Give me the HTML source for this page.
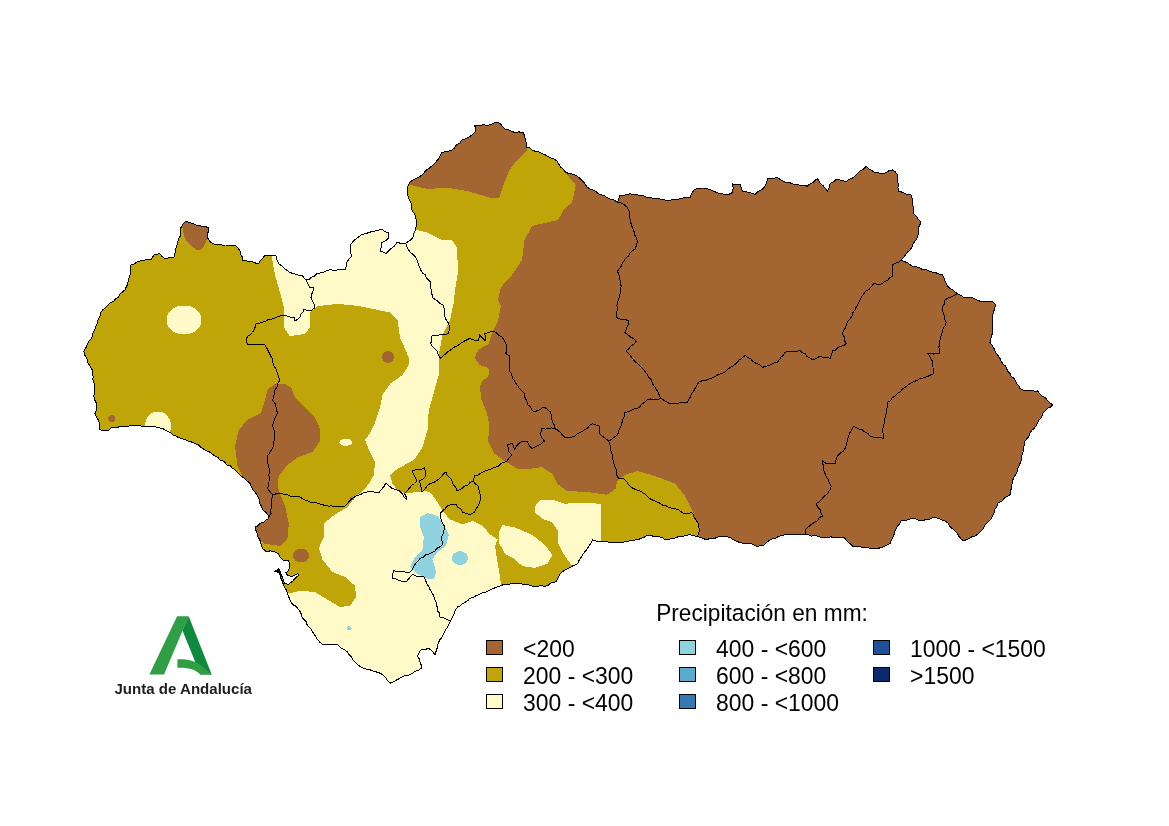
<!DOCTYPE html>
<html lang="es"><head><meta charset="utf-8"><title>Precipitación en mm</title>
<style>
html,body{margin:0;padding:0;background:#fff}
body{width:1169px;height:826px;overflow:hidden;position:relative;font-family:"Liberation Sans",Arial,sans-serif}
svg{position:absolute;left:0;top:0;display:block}
.lg{font-family:"Liberation Sans",Arial,sans-serif;font-size:22.6px;fill:#000}
.jt{font-family:"Liberation Sans",Arial,sans-serif;font-weight:bold;font-size:15px;fill:#1d1d1b}
</style></head><body>
<svg width="1169" height="826" viewBox="0 0 1169 826">
<defs><clipPath id="and"><polygon points="83.8,351.2 86,347.5 87.4,344.5 88.8,341.5 91.1,339 92.5,336 93.2,332.4 95,329.3 96.1,325.8 97.5,322.5 98.2,319.1 100,316.3 100.6,312.9 102.5,310 105.3,307.7 107.7,305 110.6,302.8 113.8,301 115.9,298.7 118.6,296.9 120.1,294 122.5,291.9 125,290 126.2,287.1 127.6,284.2 128.1,281 128.9,278 130,275 131,271.7 130,268.3 131,265 134.2,264.1 136.9,262.1 140,261 143.6,260.2 147.3,259.8 151,260 153.8,255 156.8,254.1 160,253.8 162.2,256.6 165,258.8 169.3,257.7 173.8,257.5 174.6,254.5 175.4,251.5 175.8,248.5 176.8,245.5 177.5,242.5 178.7,238.5 181,235 180.4,231.2 181,227.5 183.2,224 186,221 189.2,222.6 192.7,223.6 196,225 199.2,225.4 202.4,226.4 205.6,226.8 208.8,227.5 208.6,230.9 207.5,234.1 207.5,237.5 209,240.2 211,242.5 216,245 219.2,244.6 222.3,245.1 225.5,245 228.7,245.5 231.8,245.3 235,245 237.7,247.8 240,251 240.2,254.2 242.2,256.9 242.5,260 245.8,260.6 248.9,261.9 252.4,261.8 255.5,263 258.8,263.8 260.3,260.5 263.1,258.1 265,255 268.6,255.7 272.3,255.8 276,256 276.9,260.1 278.8,263.8 281.7,265.7 284.2,268.3 287.1,270.4 290,272.5 293.1,273.5 296.3,274.2 299.2,275.6 302.5,276 306,280 309.1,279.2 311.6,277.2 314.5,276 316.9,273.8 320,273 323.4,272.1 326.7,270.9 330,269.5 333,270.3 336,270.2 339,269.5 342,269.7 345,270 346.2,266.9 346.4,263.5 348,260.5 350,258.1 352,255.8 350.6,252.9 350,249.8 350.5,245 352.5,242.2 354.8,239.8 357.6,237.8 362.4,234.2 366,233.8 369.4,232.1 373,231.8 375.9,230.7 379,230.1 382,229.4 385.1,231.7 388.7,233 388.7,237.8 385.7,240.8 381,243.2 381.2,247.2 380.3,251 383.3,252.1 386.3,253.4 388.7,251 391,248.6 394.4,246 397,242.6 401.2,243.3 405.5,243.2 409.4,240.9 412.7,237.8 413.9,233.5 415.7,229.4 416.2,225.8 416.9,222.2 415.8,218.7 415,215 412,210 411.7,206.5 411,203.2 409.5,200 408.2,197.1 407.4,194.1 407,191 407.9,186.6 409.5,182.5 412.4,180.3 415.7,178.7 418.9,177 422,175 424.3,172.5 426.5,170 429.4,168.2 431.9,165.9 434.5,163.8 436.5,161 438.8,158.5 440.3,155.5 442,152.5 445.3,151.7 448.7,151 452,150 454.7,147.7 456.6,144.6 459.9,142.9 462,140 465.5,138.7 468.9,137.1 472,135 475.8,131 475.5,127.9 474.5,125 477.6,125 480.8,125.1 483.9,124.8 487,125.5 490.7,124.7 494.2,122.9 498,122.5 500.6,124.1 502.6,126.4 504.5,128.8 508,129.6 511.2,131 514.5,132.5 518.8,131.9 523,132.5 524.5,135.3 525.1,138.4 525.9,141.4 526.4,144.5 527,147.5 530.3,148.1 532.8,150.5 535.9,151.4 539.2,152 542,153.8 545.2,154.9 548.1,156.5 551.1,157.9 554.2,159.1 557,161 558.8,164.2 560.8,167.2 563.6,169.6 565.8,172.5 569.5,173.6 573.4,174.3 577,176 579.9,178.2 582.2,180.9 584.7,183.4 586.7,186.5 589.5,188.8 592.6,189.8 595.6,191.1 598,193.7 601.1,194.6 604.3,195.6 607,197.5 610.5,199.2 614.3,200.2 617.5,202.5 618.8,198.8 620,195 623.4,195.2 626.7,194.7 630,193.8 633.1,194.6 636.4,194.6 639.6,195.3 642.8,195.6 645.8,197 649.1,197.2 652.2,198.1 655.5,198.1 658.7,198.5 661.7,199.9 665,200 668.2,200.4 671.3,199.9 674.4,199.5 677.5,199.2 680.7,198.8 683.7,197.7 686.9,197.8 690,197.5 691.7,193.7 693.8,190 698,188.4 702.5,188 705.8,188.2 708.8,189.5 712,190.3 714.9,191.8 718,193 721.3,193.2 724.2,194.7 727.5,195 732.5,192.5 733.2,188.1 732.5,183.8 736.2,184.8 740,184.5 741.4,187.8 742.5,191.2 745.7,191.7 748.8,192.5 752,193.3 755,194.5 757.2,192.1 760.1,190.5 762.9,188.7 765,186.2 766.7,182.7 767.5,178.8 770.8,178.3 774.2,178.1 777.5,177.5 781,180.1 785,182 788.3,182 791.4,183.4 794.5,184.4 797.8,184.8 801,185.4 804.3,185.6 807.5,186.2 809.7,184 812.7,182.8 814.9,180.4 817.5,178.8 819.2,181.5 821,184.2 823.6,186.2 825.6,188.7 827.5,191.2 829.3,187.7 830,183.8 833.3,181.9 836.2,179.5 839.7,179.9 843,180.7 846.2,182 848.8,179.5 852.2,178.3 854.9,176.2 857.5,173.8 860.1,170.9 863.6,169.1 866.2,166.2 868.8,168.9 872,170.6 875,172.5 878.8,172.9 882.5,173.8 885.9,172.6 889,170.8 892.5,170 895.5,172 897.5,175 897.1,178.3 897.8,181.5 898.2,184.8 897.9,188 898.8,191.2 901.9,192.1 904.9,193.6 908,194.5 911.2,195 912.1,198.1 912.4,201.2 912.8,204.3 913.3,207.5 913.2,210.6 913.8,213.8 916.1,216 918,218.7 920,221.2 920,224.6 918.4,227.7 918.7,231 918.1,234.3 917.5,237.5 915.5,240.6 913.3,243.5 912,246.9 910,250 907.4,252.1 905.6,255 903.4,257.5 901.2,260 904,261.6 907.2,262.5 909.7,264.6 912.5,266.2 915.8,266.7 919.1,267.4 922,269.3 925.5,269.4 928.6,270.7 931.7,271.9 935,272.5 938.7,273.8 942.5,275 944,277.7 945,280.6 946.2,283.5 947.5,286.2 949.8,288.4 952.8,289.6 954.9,291.9 957.5,293.8 960.8,295.3 963.8,297.5 968.1,297.2 972.5,297.5 976.1,299.7 980,301.2 983.1,301.3 986.2,301.3 989.4,301.6 992.5,301.2 996.2,305 994.5,308.1 993.8,311.7 992.5,315 992.3,318.5 992.5,322 992.5,325.5 992.2,329 992.5,332.5 991.7,335.8 990.8,339.2 990,342.5 992.5,346 994.4,349.1 995.7,352.6 997.9,355.5 1000,358.5 1001.2,361.3 1002.8,363.8 1005.3,365.8 1006.6,368.5 1007.8,371.3 1010,373.5 1011.3,376.3 1013.8,378.2 1015.4,380.7 1016.7,383.5 1018.8,385.7 1020,388.5 1025,391 1028.1,390.6 1031.2,390.4 1034.4,391.2 1037.5,391 1039.7,393.6 1042.1,396 1045.3,397.5 1047.3,400.4 1049.8,402.6 1052.5,404.8 1050.3,407.2 1047.2,408.5 1045,411 1042.6,413.8 1041.6,417.5 1038.8,420 1037.5,423.5 1035.8,426.1 1033.9,428.5 1031.6,430.6 1030,433.2 1029,436.3 1026.9,438.6 1025,441 1024.3,444.2 1023.8,447.5 1023.3,450.7 1022.4,453.9 1021.1,457 1021.4,460.4 1020,463.5 1018.7,466.4 1017.6,469.4 1016.9,472.5 1015.2,475.3 1013.6,478 1012.5,481 1011.9,484.4 1011.9,488 1010,491.2 1010,494.8 1007.3,496.2 1004.6,497.7 1002.8,500.5 1000.2,502 997.5,503.5 996.8,506.9 994.6,509.6 994,513 992.5,516 990.9,519.1 988.6,521.6 986,523.9 984.1,526.7 982.5,529.8 980.2,532.1 977.8,534.3 975,536 971.9,536.7 969.3,538.4 966.4,539.5 963.8,541 961.1,538.9 958.9,536.4 957.4,533.3 955,531 952.4,528.6 949.6,526.4 947.9,523.1 945,521 941.3,519.6 937.6,518.1 933.8,517.2 930.2,519.1 926.1,519.3 922.5,521 918.6,520.3 915,518.5 911.5,518.6 908.1,519.8 904.7,520.6 901.2,521 899.1,524.3 896.6,527.4 895,531 894.1,534.2 893,537.4 891.2,540.4 890,543.5 887,545.1 884,546.5 880.8,547.7 877.5,548.5 874.3,548.8 871.2,548.3 868.1,547.8 865,547.2 861.8,547.2 858.8,546.3 855.6,546.6 852.5,546 850.3,543.8 847.8,541.9 845.8,539.6 843.8,537.2 840.6,537.9 837.5,537.6 834.4,537.9 831.2,536.9 828.1,537.2 825,537.2 821.6,537.3 818.3,536.5 815.1,535.4 811.6,536.1 808.4,534.7 805,534.8 801.7,534.8 798.3,534.8 795,534.3 791.7,534.9 788.3,534.7 785,534.8 781.9,535.6 778.8,536.2 776.1,538.1 772.8,538.5 770,540 766.8,542.3 764,545 760.7,545.6 757.5,546.5 753.7,544.9 750,543 746.7,543 743.3,543.3 740,542.5 736.4,541.3 733.1,539.7 730,537.5 726.7,536.7 723.3,537 720,536.2 716.7,537.6 713.3,538.7 709.6,538.6 706.2,540 703.3,538.3 700,537.5 696.7,536.3 693.2,535.8 690,534.5 686.9,535.5 683.8,536 680.6,536.4 677.5,537 674.3,538.3 670.9,538.7 667.5,539.5 664.5,539.1 661.8,537.4 658.9,536.6 655.8,536.4 652.8,536.1 650,535 646.8,535.4 644.1,537.3 641.1,538.2 638.2,539.7 635,540 632,540.7 629,541 626,541.5 623.1,542.4 620,542.5 617,542.2 613.9,542.7 611,542.1 608,542.1 605,541.2 601.9,541.1 598.7,541.3 595.6,541 592.5,540 590.9,543.3 588.8,546.2 587,549.4 584.5,552 582.5,555 580.8,557.9 578.9,560.7 577.5,563.8 573.7,565.4 570,567.5 566.5,569.3 563.1,571.2 560,573.8 558.3,577.6 556.2,581.2 553.5,582.7 550.3,583.1 548,585.4 545,586.2 541.9,585.9 538.8,586 535.6,586.9 532.5,586.2 529.1,585.1 525.6,584.4 522,584.1 518.6,583.3 515,583 511.8,583.1 508.8,584.5 505.6,584.5 502.5,585 499.6,586.2 496.5,587.1 493.6,588.4 490.7,589.6 487.9,591.1 485,592.5 481.8,593.1 478.9,594.6 475.9,595.7 473.1,597.5 470,598.2 467.9,600.5 465.3,602.2 462.6,603.7 460.3,605.7 457.5,607 455.5,609.9 454.3,613.2 452.7,616.3 451.2,619.5 449.2,623.2 447.5,627 445.4,630 443.8,633.3 442.5,636.7 440,639.5 438.6,642.4 437.7,645.4 437,648.5 436,651.5 435,654.5 432,651.2 428.8,648.2 425.1,649.5 421.2,649.5 419.1,652.5 417.5,655.8 419.1,658.7 420,662 421.2,665 421.2,668.2 418.5,670.2 415.3,671.3 412.5,673.2 409.5,674.9 406.1,675.4 402.9,676.4 400,678.2 396.7,679.9 393.4,681.7 390,683.2 387.5,680.4 385.2,677.2 382.5,674.5 379.3,672.9 375.9,671.8 372.5,670.8 368.8,669.3 364.8,668.8 361.2,667 357.8,664.9 355,662 352.8,659.7 351.5,656.8 349.2,654.7 347.5,652 345.1,650 342.1,648.8 339.6,646.9 337.5,644.5 334.5,644.8 331.5,644.3 328.5,644.2 325.5,644.3 322.5,644.5 319.8,642.2 317.5,639.5 315.4,636.2 313.3,632.9 311.2,629.5 309.3,627 307.1,624.8 306.1,621.7 303.8,619.5 301.6,616.3 300.8,612.5 298.4,609.4 296.3,606.4 292.8,604.7 290.7,601.7 288.7,596.8 287.4,593.4 286.3,590 283.4,585.2 282.6,581.7 281,578.4 280.2,574.7 278.1,571.6 274.7,571.2 278.6,569.7 280,572.6 281.5,575.5 282.9,578.4 284.4,583.8 288.7,584.2 292.6,581.3 295.5,577.9 298.9,575 297.5,573.6 294.7,575.3 291.6,576.5 287.3,575 285.8,572.6 288.7,570.7 289.7,564.9 288.7,561 282.9,560 280.2,557.1 278.1,553.7 274.4,551.7 270.3,550.8 266.5,551.8 262.6,548.4 261.2,545.6 260.8,542.6 259.7,539.7 257.9,536.7 257.1,533.2 255.8,530 255,527 258.1,525.8 260.2,523.2 263.5,522.3 266,520.2 268.8,518.5 268.8,516 266,512.5 262.5,509.8 261.5,506.2 259.6,503 259.3,499.2 257.5,496 255.6,492.9 253.2,490.1 251.3,487 250,483.5 247.5,481.2 245,479 242.3,476.8 239.7,474.7 237.4,472.2 235,469.8 232.4,468.2 230.3,465.9 227.1,465.2 225.2,462.6 222.8,460.8 219.7,459.9 217.8,457.2 215,456 212.3,454 209.6,452 206.3,450.9 203.5,449 200.6,447.2 198.2,444.7 195,443.5 191.9,442.1 188.6,441.2 185.5,439.8 182.2,438.8 178.9,437.8 176,436 173,434.9 170.7,432.5 167.6,431.6 165,429.8 161.9,428.1 158.2,427.9 155,426.5 151.8,426.8 148.6,426.3 145.3,426.7 142.1,426.4 138.9,425.5 135.7,425.5 132.5,426 129.4,425.9 126.3,426.4 123.2,426.3 120.2,426.5 117.1,427.4 114,427.4 111,428 108.8,430.5 104.3,430.8 100,429.8 99.7,425.3 98.8,421 96.8,417.3 95,413.5 96.3,409.8 97,406 96.1,402.6 94.5,399.4 93.8,396 95,392.5 94,389.2 94.8,385.8 93.8,382.5 92.9,379.4 93.1,376.3 92.6,373.1 92.5,370 90.6,367.7 89.4,364.8 87.5,362.5 86.9,358.5 84.7,355.1"/></clipPath></defs>

<g clip-path="url(#and)" shape-rendering="crispEdges">
<rect x="60" y="100" width="1020" height="620" fill="#BFA508"/>
<polygon points="271,250 272.5,261 275,275 280,292.5 283.8,307.5 283.8,327.5 290,336.2 305,333.8 310,327.5 310,312.5 317.5,306.2 337.5,303.8 360,306.2 390,312.5 397.5,320 400,337.5 408.8,357.5 408.8,365 402.5,375 390,383.8 382.5,395 380,407.5 375,422.5 368.8,435 365,440 370,452.5 375,462.5 373.8,475 368.8,483.8 362,492 355,497 347.5,507 335,514.5 323.8,523.2 323.8,537 318.8,548.2 322.5,559.5 332.5,572 345,577 355,585.8 356.2,597 350,605.8 340,607 327.5,599.5 315,592 300,590.8 290,593.2 275,595 275,700 480,700 503,600 501.2,585.8 500,577 497.5,562 495,545.8 497.5,539.5 490,534.5 482.5,525.8 472.5,520.8 462.5,524.5 450,519.5 442.5,510.8 437.5,502 430,492 424.5,491 405.8,493.5 397.5,490 392.5,483.8 390,475 397.5,468.8 413.8,460 422.5,447.5 427.5,430 428.8,410 433.8,392.5 439.5,372.5 438.8,355 442.5,335 450,320 453.8,302.5 455,290 458,272.5 457,247.5 452,240 442,240 427,232.5 417,230 408,228 408,220 345,220 345,262 320,268 306,274 290,266 276,250" fill="#FFFAC8"/>
<polygon points="535,506.2 540,500 552.5,499.5 565,503.8 577.5,502.5 601.2,503.8 601.2,545 590,560 575,570 562.5,552.5 557.5,542.5 557.5,530 552.5,522.5 542.5,518.8 535,512.5" fill="#FFFAC8"/>
<polygon points="502.5,525 515,527.5 532.5,535 545,545 552.5,555 547.5,563.8 535,568 522.5,566.2 512.5,557.5 505,553.8 498.8,542.5 498.8,532.5" fill="#FFFAC8"/>
<polygon points="562,100 562,168.8 575.8,185 572,202.5 564.5,208.8 558,220 532,226 524.5,240 522,260 512,275 500.8,287.5 498,300 500.8,306 498,321 493.5,330 490.1,338.6 488.4,344.5 483.3,346.7 479,349.7 475.6,354 475.4,359.1 479.9,365.1 487.6,367.6 489.3,370.2 488.4,376.2 482.4,381.3 479.9,386.5 480.7,393.3 481.5,400 487,413.5 489.5,426 488,441 494.5,453.5 504.5,461 517,468.5 532,468.5 542,467 552,473.5 557,483.5 567,491 587,492 607,494.8 615.8,488.5 617,481 625,474.8 637.5,471 655,476 675,483.5 685,496 692.5,511 700,528.5 698.8,536.2 698,570 1100,570 1100,100" fill="#A36632"/>
<polygon points="400,110 400,184 410.8,185 427,188.8 449.5,188 467,191 489.5,197.5 499.5,197.5 504.5,182.5 509.5,170 517,160 527,150 527,147.5 535,110" fill="#A36632"/>
<polygon points="178,215 182.5,227.5 184,236 187,242 191.5,246.5 196,249.5 200,250 203.5,247.5 206,242 207.5,237.5 208.8,227.5 214,215" fill="#A36632"/>
<polygon points="267.5,390 275,383.5 283.8,383.5 291.2,387.5 295,397.5 305,407.5 315,417.5 319.5,427.5 320,441 312.5,452 297.5,457.5 287.5,464.8 278.8,476 277.5,486 281,496 285,506 288.8,523.5 287.5,538.5 280,546 263.8,543.5 257.5,536 246,532 246,495 242.5,476 237.5,466 235,446 238.8,429.8 247.5,419.8 261,413 265,400" fill="#A36632"/>
<ellipse cx="184" cy="320" rx="17.5" ry="14.5" fill="#FFFAC8"/>
<ellipse cx="158" cy="426" rx="13" ry="14.5" fill="#FFFAC8"/>
<ellipse cx="345.75" cy="442.25" rx="6.5" ry="3.5" fill="#FFFAC8"/>
<ellipse cx="111.75" cy="418.5" rx="3.5" ry="3.5" fill="#A36632"/>
<ellipse cx="388" cy="357" rx="6" ry="6" fill="#A36632"/>
<ellipse cx="301" cy="555.5" rx="8" ry="7" fill="#A36632"/>
<ellipse cx="352" cy="498.5" rx="2" ry="2" fill="#A36632"/>
<polygon points="420,517 427.5,513.2 437.5,515.8 443.8,524.5 448.8,534.5 446.2,545.8 437.5,552 432.5,559.5 436.2,572 433.8,579.5 425,578.2 415,572 410,567 415,557 422.5,549.5 423.8,537 420,527" fill="#8FD3E0"/>
<ellipse cx="460" cy="558.25" rx="8" ry="7" fill="#8FD3E0"/>
<ellipse cx="349.25" cy="628.25" rx="2.5" ry="2" fill="#8FD3E0"/>
</g>
<g fill="none" stroke="#000" stroke-width="1" stroke-linejoin="round" shape-rendering="crispEdges">
<polyline points="306,280 307.8,283.9 310,287.5 313.8,287.5 313.1,290.9 311.8,294.1 311,297.5 312.5,300.8 314.1,304 315,307.5 311,311 307.4,310.5 304,309 303,312 300.8,314.4 300,317.5 297.5,319.3 295,321 294,317 290.5,317.1 287,315.9 283.5,315.6 280,316 276.9,317.1 273.9,318.5 270.8,319.4 267.5,320 264.8,321.5 261.8,322.2 259.1,323.5 256,324 255.2,327 254,329.8 252.5,332.5 250.3,334.6 247.8,336.4 246,339 247.5,344.5 251,344.9 254.5,344.6 258,344.7 261.5,344.9 265,345 267.2,348.7 269,352.5 270.4,355.4 272,358.3 272.9,361.4 273.2,364.7 275,367.5 276.7,370.4 277.5,373.8 278.6,376.9 280,380 277.9,383.1 277,386.8 275,390 274.5,393.4 273.7,396.8 272.5,400 275,403.5 276,406.8 276.7,410.1 277.5,413.5 275.7,416.4 274.5,419.6 273.3,422.7 272.5,426 273.8,429 274.4,432.1 274.1,435.4 275,438.5 273.6,441.7 273.4,445.2 272.5,448.5 270.6,450.9 269.4,453.9 267,456 267.7,459 267.6,462.1 268.4,465.1 268.9,468.1 270,471 268.8,474.4 269.3,478 269,481.6 268.5,485.1 267.5,488.5 270,491.6 272.5,494.8 272,497.9 271.4,501 271.4,504.1 271.3,507.2 270.9,510.3 271,513.5 268.8,517"/>
<polyline points="272.5,494.8 276.2,493.8 280,493 283.3,494.1 286.9,494.4 290,496 293.3,496.7 296.7,496.3 300,497 303.1,499.2 306.6,500.5 310,502 313.2,502.4 316.4,502.9 319.4,503.7 322.5,504.8 325.6,505.5 328.7,506.1 332,505.9 335,507 338.3,506.1 341.7,506.4 345,506 347.4,503.6 349.6,500.9 352,498.5 354.5,497 357.5,495.4 360.8,494.6 363.6,492.6 367,492 370.1,491.7 373.2,491.9 376.4,492.6 379.5,492 381.7,489.1 384.1,486.3 385.8,483 388.9,485.7 392,488.5 395.9,489.4 399.5,491 402.3,493.7 404,497.3 407,499.8 406,496.5 404.5,493.5 407,491 409.3,488.3 411.5,485.5 414.5,483.5 417,481 415.6,477.6 413.6,474.4 412,471 415,469.9 418.3,469.7 421.5,469.3 424.5,468 425.5,471.9 425.8,476 423,479 419.5,481 420.6,484.6 421.3,488.3 422,492 424.7,489.2 427,486 429.9,483.8 433.5,482.6 436.5,480.7 439.5,478.5 441.6,476.3 443.4,473.9 445.8,472 447.3,475.4 450.1,477.8 452,481 453.3,484.5 455.7,487.5 457,491 462,488.5 464.5,486.3 467.7,485.1 470.1,482.6 473,481"/>
<polyline points="473,481 474.5,476 477.7,475.3 480.3,473.5 483.1,471.8 486,470.6 489,469.6 492,468.5 495.1,467.2 498.3,466.1 500.8,463.6 503.9,462.4 507,461 509.2,457.6 512,454.8 508,451 508.2,447.8 507,444.8 512,443.5 513.7,446.4 514.5,449.8 516.1,446.8 518.2,444.2 520.8,442 523.9,441.4 527,441 528.2,443.8 529.9,446.3 532,448.5 535.3,446.9 538.6,445.3 541.7,443.4 544.5,441 542.4,438.6 540.8,436 540.9,432.2 542,428.5 545.1,429.1 548.2,428.8 551.4,427.8 554.5,428.5"/>
<polyline points="473,481 475.3,483.7 478,486 478.9,489.1 479.5,492.2 480.3,495.3 480.8,498.5 479.6,502.1 478.3,505.5 476.3,508.8 474.5,512 470,514.5 466.2,513.4 462.5,512 460.9,509.1 457.9,507.3 456.2,504.5 451.8,504.5 447.5,505.8 445.3,508.5 442.6,510.9 440,513.2 440.2,516.5 441.2,519.5 442.7,523.5 445,527 443.8,530.4 443.1,533.9 441.2,537 441.9,540.7 442.5,544.5 440.1,546.7 437.1,548.2 435,550.8 432.2,552.6 429.1,553.9 425.8,554.8 423.3,557.3 420,558.2 418.1,561.1 415.6,563.5 413.7,566.3 412.5,569.6 410,572 406.2,572.4 402.5,571.5 398.1,571.7 393.8,570.8 392.5,574.4 392.5,578.2 396,578.9 399.3,580.5 402.7,581.6 406.2,582 408.2,579.4 410.2,576.8 412.5,574.5 416.1,576 420,576.3 423.8,577 425.6,580 426.6,583.4 428.7,586.3 430,589.5 431.8,592.5 433.7,595.4 434.4,599 436.2,602 436.4,605.1 437.6,608 437.9,611.2 439.9,613.8 440,617 443.5,617.9 446.7,619.5 450,620.8"/>
<polyline points="405.8,242.5 406.3,245.8 408,248.8 410.1,252.1 413.3,254.5 415.8,257.5 417.3,260.5 418.3,263.7 419.5,266.9 420.8,270 422.3,272.9 425.1,274.7 426.4,277.8 428.5,280.2 430.8,282.5 430.5,285.5 430.9,288.5 431.4,291.5 432,294.5 432,297.5 434.9,299.2 437.6,301.1 440,303.5 443,305 444.1,308.6 444.4,312.3 444.5,316 445.9,319.5 448.1,322.5 449.5,326 449.3,329.9 448,333.5 444.5,334.8 440.8,334.8 436.4,335.3 432,336 431.6,339.8 430.8,343.5 432.3,346.4 434.5,348.8 437,351 438.3,355.1 440.8,358.5 443.3,355.9 445.9,353.5 448.6,351.2 451.7,349.3 454.5,347 457.6,345.6 460.5,343.5 463.3,341.6 466.4,340.1 469.5,338.5 473.7,339.9 478,341 479,337.9 479.5,334.8 482.4,338.1 485.8,341 485.6,337.2 484.5,333.5 488.8,332.5 493,331 496.3,332.6 498.7,335.4 502,337 503.9,339.9 505.3,343 507,346 506.6,349.8 505.8,353.5 509.5,356 509.2,359 509.9,362 509.9,365 509.9,368 509.5,371 511.6,374.1 512.4,377.9 514.5,381 516.1,383.6 518,385.9 519.5,388.5 522.1,390.9 524.5,393.5 525,397.5 526.8,401 528,404.8 530.4,406.9 532,409.9 534.5,412 537.4,410.5 540.5,409.3 543,407 545.9,408.2 548.2,410.3 550.8,412 551.1,415.4 551.8,418.7 552.4,422 554.4,425.1 554.5,428.5"/>
<polyline points="618.5,202.5 621,203 624.4,205 627.5,207.5 628.9,210.7 629.6,214.1 629.4,217.7 630.7,220.9 631.1,224.3 632.5,227.5 633.9,230.9 634.5,234.6 636.3,237.8 637.5,241.2 636.6,245.1 635,248.8 632.5,250.7 630.2,252.7 628.8,255.7 626.2,257.5 624.4,260.2 622.6,262.9 621.3,266 619.4,268.6 617.5,271.2 618.7,274.1 619.4,277.1 620.1,280.2 620.4,283.3 621.2,286.2 620.3,289.5 620.2,292.8 619.7,296.2 618.5,299.3 617.5,302.5 617,305.5 617.4,308.5 617,311.5 616.9,314.5 616.2,317.5 619.3,318.8 622.5,319.4 625.8,319.7 628.8,321.2 628,325.2 626.4,328.8 625,332.5 627.8,334.7 630.5,337 633.8,338.6 636.2,341.2 634.1,344 631.1,345.9 628.8,348.7 626.2,351 628.6,353.3 630.6,355.8 632.5,358.5 634.6,361.4 637.7,363.3 639.9,366.1 642.5,368.5 644.8,371.2 647,374.1 648.7,377.3 651.2,379.8 652.5,383.8 655,387.2 656.7,390 658.5,392.7 659.4,395.8 661.2,398.5"/>
<polyline points="661.2,398.5 657.9,399.2 654.4,399.8 650.9,398.9 647.5,399.8 645.1,402 642.2,403.8 640.1,406.4 637.5,408.5 634.2,408.9 631.3,410.4 628.3,411.8 625,412.2 624.7,415.9 623.1,419.1 622,422.5 621.2,426 619.1,429.1 618.4,432.9 616.2,436 613.7,437.5 611.4,439.5 608.8,441 605.8,438.6 602.6,436.5 600,433.8 599.7,430 600,426.2 596.3,425 592.5,423.8 589.6,425.1 587.8,427.9 585,429.4 582.5,431.2 579.8,432.6 577.1,434 575,436.2 571.7,437.1 568.4,437.6 565,437.5 562.5,435 560.2,432.4 557.6,430.1 554.5,428.5"/>
<polyline points="608.8,441 609.5,444 610.9,446.8 610.4,450.1 611.9,453 612.5,456 612.7,459.4 613.8,462.6 614.3,466 616,469.1 616.2,472.5 617.1,475.8 618.8,478.8 623.8,478.8 626.1,481 628,483.7 630,486.2 632.9,488.2 636,489.8 639.6,490.5 642.5,492.5 645.3,494.3 647.6,496.6 650,498.8 653.1,500.3 656.3,501.7 659.6,503 662.5,505 665.7,505.6 668.7,507.2 671.7,508.3 675,508.8 678.6,509.8 681.6,512.2 685,513.8 688.2,513.5 691.2,512.5 693.5,514.6 694.2,517.8 696.2,520 698,523.1 698.6,526.7 700,530 698.7,533.1 697.5,536.2"/>
<polyline points="661.2,398.5 664.1,400.5 667.2,401.9 670,404 673.5,403.5 677,403.4 680.5,402.8 684,402.8 687.5,402.2 688.9,399.5 690.4,396.7 691.4,393.7 693.6,391.3 695,388.5 696.9,385.4 698.8,382.2 702.4,380.6 706.4,380.1 710,378.5 713.2,377.6 716,375.9 718.8,374.3 722,373.5 725,372.2 727.5,369.6 730.3,367.5 733.4,365.6 736.2,363.5 738.8,360.4 742,358.1 745,355.5 747.5,357.3 750.4,358.6 752.5,361 755.7,363.2 759.5,364.7 762.5,367.2 765.6,366.6 768.6,365.6 771.5,364.3 774.3,362.7 777.5,362.2 779.4,359.8 781.1,357.1 783.6,355.1 785,352.2 787.9,351.4 791.1,352 794.1,351.9 797,351.2 800,350.5 802.2,352.7 805.3,353.9 807.1,356.6 810,357.9 812.5,359.8 816.5,358.4 820,356 823.2,357.4 826.8,357.2 830,358.5 831.6,354.9 832.5,351 835.5,350.1 837.7,347.6 840.7,346.5 843.7,345.5 846.2,343.8 844.6,340.6 844.3,336.9 842.5,333.8 843.5,330.7 845.4,328.1 846.2,325 847.6,321.7 849.8,319 852,316.3 852.9,312.8 855,310 856.2,307.1 857.9,304.6 859.2,301.8 860.3,298.9 861.9,296.2 863.8,293.8 865.9,290.9 869.2,289.2 871.4,286.4 873.8,283.8 878.1,284.3 882.5,283.8 884.7,281.5 887.7,280.3 889.7,277.7 892.5,276.2 892.5,272.5 892.7,268.8 892.5,265 895.3,263.2 898.6,262.1 901.2,260"/>
<polyline points="957.5,293.8 954.3,295.2 951.2,296.8 947.9,298 945,300 944.7,303.5 942.7,306.5 942.5,310 943.3,313.2 944.5,316.2 944.9,319.5 946.2,322.5 945.3,325.7 943.1,328.5 942.4,331.8 941.2,335 940.8,338.2 939.6,341.2 939.5,344.4 938.8,347.5 939.8,350.4 940,353.5 936.9,353.2 933.8,354.1 930.6,353.1 927.5,353.5 929.5,355.8 930.7,358.6 932.5,361 932.1,364.2 933,367.3 933.2,370.4 933.8,373.5 930.4,375 927.1,376.7 923.7,377.9 920,378.5 916.9,380.6 913.3,381.7 910,383.5 907.6,385.6 905,387.5 902.2,389.1 900.3,391.9 897.5,393.5 895.3,396 892.4,397.7 890.4,400.6 887.5,402.2 887.7,405.6 886.7,408.8 886.5,412.1 885.7,415.3 885,418.5 884.8,421.7 883.6,424.7 883,427.9 882.5,431 883.5,434.7 883.8,438.5 880.3,437.7 876.9,437.3 873.3,437.1 870,436 867.9,433.4 864.8,432.1 862.5,429.8 859.4,429 856.4,427.8 853.8,426 851.9,429.2 850,432.4 848.8,436 847.4,439 847,442.3 846.3,445.5 845,448.5 843,451.5 839.9,453.4 837.5,456 836.2,459.7 835,463.5 830.6,463.7 826.2,463.5 822.5,461 822.9,464.2 823.8,467.2 823.8,470.5 825,473.5 826.3,476.8 828.4,479.6 829.2,483.1 831.2,486 829.9,490 827.5,493.5 825.2,495.5 823.1,497.6 821,499.8 818.9,502 816.2,503.5 817.5,506.8 820,509.4 820.9,512.9 822.5,516 819.6,517.4 817.8,520.2 815.3,522 812.5,523.5 809.9,525.5 807.5,527.7 805,529.8 805,534.8"/>
<polygon points="83.8,351.2 86,347.5 87.4,344.5 88.8,341.5 91.1,339 92.5,336 93.2,332.4 95,329.3 96.1,325.8 97.5,322.5 98.2,319.1 100,316.3 100.6,312.9 102.5,310 105.3,307.7 107.7,305 110.6,302.8 113.8,301 115.9,298.7 118.6,296.9 120.1,294 122.5,291.9 125,290 126.2,287.1 127.6,284.2 128.1,281 128.9,278 130,275 131,271.7 130,268.3 131,265 134.2,264.1 136.9,262.1 140,261 143.6,260.2 147.3,259.8 151,260 153.8,255 156.8,254.1 160,253.8 162.2,256.6 165,258.8 169.3,257.7 173.8,257.5 174.6,254.5 175.4,251.5 175.8,248.5 176.8,245.5 177.5,242.5 178.7,238.5 181,235 180.4,231.2 181,227.5 183.2,224 186,221 189.2,222.6 192.7,223.6 196,225 199.2,225.4 202.4,226.4 205.6,226.8 208.8,227.5 208.6,230.9 207.5,234.1 207.5,237.5 209,240.2 211,242.5 216,245 219.2,244.6 222.3,245.1 225.5,245 228.7,245.5 231.8,245.3 235,245 237.7,247.8 240,251 240.2,254.2 242.2,256.9 242.5,260 245.8,260.6 248.9,261.9 252.4,261.8 255.5,263 258.8,263.8 260.3,260.5 263.1,258.1 265,255 268.6,255.7 272.3,255.8 276,256 276.9,260.1 278.8,263.8 281.7,265.7 284.2,268.3 287.1,270.4 290,272.5 293.1,273.5 296.3,274.2 299.2,275.6 302.5,276 306,280 309.1,279.2 311.6,277.2 314.5,276 316.9,273.8 320,273 323.4,272.1 326.7,270.9 330,269.5 333,270.3 336,270.2 339,269.5 342,269.7 345,270 346.2,266.9 346.4,263.5 348,260.5 350,258.1 352,255.8 350.6,252.9 350,249.8 350.5,245 352.5,242.2 354.8,239.8 357.6,237.8 362.4,234.2 366,233.8 369.4,232.1 373,231.8 375.9,230.7 379,230.1 382,229.4 385.1,231.7 388.7,233 388.7,237.8 385.7,240.8 381,243.2 381.2,247.2 380.3,251 383.3,252.1 386.3,253.4 388.7,251 391,248.6 394.4,246 397,242.6 401.2,243.3 405.5,243.2 409.4,240.9 412.7,237.8 413.9,233.5 415.7,229.4 416.2,225.8 416.9,222.2 415.8,218.7 415,215 412,210 411.7,206.5 411,203.2 409.5,200 408.2,197.1 407.4,194.1 407,191 407.9,186.6 409.5,182.5 412.4,180.3 415.7,178.7 418.9,177 422,175 424.3,172.5 426.5,170 429.4,168.2 431.9,165.9 434.5,163.8 436.5,161 438.8,158.5 440.3,155.5 442,152.5 445.3,151.7 448.7,151 452,150 454.7,147.7 456.6,144.6 459.9,142.9 462,140 465.5,138.7 468.9,137.1 472,135 475.8,131 475.5,127.9 474.5,125 477.6,125 480.8,125.1 483.9,124.8 487,125.5 490.7,124.7 494.2,122.9 498,122.5 500.6,124.1 502.6,126.4 504.5,128.8 508,129.6 511.2,131 514.5,132.5 518.8,131.9 523,132.5 524.5,135.3 525.1,138.4 525.9,141.4 526.4,144.5 527,147.5 530.3,148.1 532.8,150.5 535.9,151.4 539.2,152 542,153.8 545.2,154.9 548.1,156.5 551.1,157.9 554.2,159.1 557,161 558.8,164.2 560.8,167.2 563.6,169.6 565.8,172.5 569.5,173.6 573.4,174.3 577,176 579.9,178.2 582.2,180.9 584.7,183.4 586.7,186.5 589.5,188.8 592.6,189.8 595.6,191.1 598,193.7 601.1,194.6 604.3,195.6 607,197.5 610.5,199.2 614.3,200.2 617.5,202.5 618.8,198.8 620,195 623.4,195.2 626.7,194.7 630,193.8 633.1,194.6 636.4,194.6 639.6,195.3 642.8,195.6 645.8,197 649.1,197.2 652.2,198.1 655.5,198.1 658.7,198.5 661.7,199.9 665,200 668.2,200.4 671.3,199.9 674.4,199.5 677.5,199.2 680.7,198.8 683.7,197.7 686.9,197.8 690,197.5 691.7,193.7 693.8,190 698,188.4 702.5,188 705.8,188.2 708.8,189.5 712,190.3 714.9,191.8 718,193 721.3,193.2 724.2,194.7 727.5,195 732.5,192.5 733.2,188.1 732.5,183.8 736.2,184.8 740,184.5 741.4,187.8 742.5,191.2 745.7,191.7 748.8,192.5 752,193.3 755,194.5 757.2,192.1 760.1,190.5 762.9,188.7 765,186.2 766.7,182.7 767.5,178.8 770.8,178.3 774.2,178.1 777.5,177.5 781,180.1 785,182 788.3,182 791.4,183.4 794.5,184.4 797.8,184.8 801,185.4 804.3,185.6 807.5,186.2 809.7,184 812.7,182.8 814.9,180.4 817.5,178.8 819.2,181.5 821,184.2 823.6,186.2 825.6,188.7 827.5,191.2 829.3,187.7 830,183.8 833.3,181.9 836.2,179.5 839.7,179.9 843,180.7 846.2,182 848.8,179.5 852.2,178.3 854.9,176.2 857.5,173.8 860.1,170.9 863.6,169.1 866.2,166.2 868.8,168.9 872,170.6 875,172.5 878.8,172.9 882.5,173.8 885.9,172.6 889,170.8 892.5,170 895.5,172 897.5,175 897.1,178.3 897.8,181.5 898.2,184.8 897.9,188 898.8,191.2 901.9,192.1 904.9,193.6 908,194.5 911.2,195 912.1,198.1 912.4,201.2 912.8,204.3 913.3,207.5 913.2,210.6 913.8,213.8 916.1,216 918,218.7 920,221.2 920,224.6 918.4,227.7 918.7,231 918.1,234.3 917.5,237.5 915.5,240.6 913.3,243.5 912,246.9 910,250 907.4,252.1 905.6,255 903.4,257.5 901.2,260 904,261.6 907.2,262.5 909.7,264.6 912.5,266.2 915.8,266.7 919.1,267.4 922,269.3 925.5,269.4 928.6,270.7 931.7,271.9 935,272.5 938.7,273.8 942.5,275 944,277.7 945,280.6 946.2,283.5 947.5,286.2 949.8,288.4 952.8,289.6 954.9,291.9 957.5,293.8 960.8,295.3 963.8,297.5 968.1,297.2 972.5,297.5 976.1,299.7 980,301.2 983.1,301.3 986.2,301.3 989.4,301.6 992.5,301.2 996.2,305 994.5,308.1 993.8,311.7 992.5,315 992.3,318.5 992.5,322 992.5,325.5 992.2,329 992.5,332.5 991.7,335.8 990.8,339.2 990,342.5 992.5,346 994.4,349.1 995.7,352.6 997.9,355.5 1000,358.5 1001.2,361.3 1002.8,363.8 1005.3,365.8 1006.6,368.5 1007.8,371.3 1010,373.5 1011.3,376.3 1013.8,378.2 1015.4,380.7 1016.7,383.5 1018.8,385.7 1020,388.5 1025,391 1028.1,390.6 1031.2,390.4 1034.4,391.2 1037.5,391 1039.7,393.6 1042.1,396 1045.3,397.5 1047.3,400.4 1049.8,402.6 1052.5,404.8 1050.3,407.2 1047.2,408.5 1045,411 1042.6,413.8 1041.6,417.5 1038.8,420 1037.5,423.5 1035.8,426.1 1033.9,428.5 1031.6,430.6 1030,433.2 1029,436.3 1026.9,438.6 1025,441 1024.3,444.2 1023.8,447.5 1023.3,450.7 1022.4,453.9 1021.1,457 1021.4,460.4 1020,463.5 1018.7,466.4 1017.6,469.4 1016.9,472.5 1015.2,475.3 1013.6,478 1012.5,481 1011.9,484.4 1011.9,488 1010,491.2 1010,494.8 1007.3,496.2 1004.6,497.7 1002.8,500.5 1000.2,502 997.5,503.5 996.8,506.9 994.6,509.6 994,513 992.5,516 990.9,519.1 988.6,521.6 986,523.9 984.1,526.7 982.5,529.8 980.2,532.1 977.8,534.3 975,536 971.9,536.7 969.3,538.4 966.4,539.5 963.8,541 961.1,538.9 958.9,536.4 957.4,533.3 955,531 952.4,528.6 949.6,526.4 947.9,523.1 945,521 941.3,519.6 937.6,518.1 933.8,517.2 930.2,519.1 926.1,519.3 922.5,521 918.6,520.3 915,518.5 911.5,518.6 908.1,519.8 904.7,520.6 901.2,521 899.1,524.3 896.6,527.4 895,531 894.1,534.2 893,537.4 891.2,540.4 890,543.5 887,545.1 884,546.5 880.8,547.7 877.5,548.5 874.3,548.8 871.2,548.3 868.1,547.8 865,547.2 861.8,547.2 858.8,546.3 855.6,546.6 852.5,546 850.3,543.8 847.8,541.9 845.8,539.6 843.8,537.2 840.6,537.9 837.5,537.6 834.4,537.9 831.2,536.9 828.1,537.2 825,537.2 821.6,537.3 818.3,536.5 815.1,535.4 811.6,536.1 808.4,534.7 805,534.8 801.7,534.8 798.3,534.8 795,534.3 791.7,534.9 788.3,534.7 785,534.8 781.9,535.6 778.8,536.2 776.1,538.1 772.8,538.5 770,540 766.8,542.3 764,545 760.7,545.6 757.5,546.5 753.7,544.9 750,543 746.7,543 743.3,543.3 740,542.5 736.4,541.3 733.1,539.7 730,537.5 726.7,536.7 723.3,537 720,536.2 716.7,537.6 713.3,538.7 709.6,538.6 706.2,540 703.3,538.3 700,537.5 696.7,536.3 693.2,535.8 690,534.5 686.9,535.5 683.8,536 680.6,536.4 677.5,537 674.3,538.3 670.9,538.7 667.5,539.5 664.5,539.1 661.8,537.4 658.9,536.6 655.8,536.4 652.8,536.1 650,535 646.8,535.4 644.1,537.3 641.1,538.2 638.2,539.7 635,540 632,540.7 629,541 626,541.5 623.1,542.4 620,542.5 617,542.2 613.9,542.7 611,542.1 608,542.1 605,541.2 601.9,541.1 598.7,541.3 595.6,541 592.5,540 590.9,543.3 588.8,546.2 587,549.4 584.5,552 582.5,555 580.8,557.9 578.9,560.7 577.5,563.8 573.7,565.4 570,567.5 566.5,569.3 563.1,571.2 560,573.8 558.3,577.6 556.2,581.2 553.5,582.7 550.3,583.1 548,585.4 545,586.2 541.9,585.9 538.8,586 535.6,586.9 532.5,586.2 529.1,585.1 525.6,584.4 522,584.1 518.6,583.3 515,583 511.8,583.1 508.8,584.5 505.6,584.5 502.5,585 499.6,586.2 496.5,587.1 493.6,588.4 490.7,589.6 487.9,591.1 485,592.5 481.8,593.1 478.9,594.6 475.9,595.7 473.1,597.5 470,598.2 467.9,600.5 465.3,602.2 462.6,603.7 460.3,605.7 457.5,607 455.5,609.9 454.3,613.2 452.7,616.3 451.2,619.5 449.2,623.2 447.5,627 445.4,630 443.8,633.3 442.5,636.7 440,639.5 438.6,642.4 437.7,645.4 437,648.5 436,651.5 435,654.5 432,651.2 428.8,648.2 425.1,649.5 421.2,649.5 419.1,652.5 417.5,655.8 419.1,658.7 420,662 421.2,665 421.2,668.2 418.5,670.2 415.3,671.3 412.5,673.2 409.5,674.9 406.1,675.4 402.9,676.4 400,678.2 396.7,679.9 393.4,681.7 390,683.2 387.5,680.4 385.2,677.2 382.5,674.5 379.3,672.9 375.9,671.8 372.5,670.8 368.8,669.3 364.8,668.8 361.2,667 357.8,664.9 355,662 352.8,659.7 351.5,656.8 349.2,654.7 347.5,652 345.1,650 342.1,648.8 339.6,646.9 337.5,644.5 334.5,644.8 331.5,644.3 328.5,644.2 325.5,644.3 322.5,644.5 319.8,642.2 317.5,639.5 315.4,636.2 313.3,632.9 311.2,629.5 309.3,627 307.1,624.8 306.1,621.7 303.8,619.5 301.6,616.3 300.8,612.5 298.4,609.4 296.3,606.4 292.8,604.7 290.7,601.7 288.7,596.8 287.4,593.4 286.3,590 283.4,585.2 282.6,581.7 281,578.4 280.2,574.7 278.1,571.6 274.7,571.2 278.6,569.7 280,572.6 281.5,575.5 282.9,578.4 284.4,583.8 288.7,584.2 292.6,581.3 295.5,577.9 298.9,575 297.5,573.6 294.7,575.3 291.6,576.5 287.3,575 285.8,572.6 288.7,570.7 289.7,564.9 288.7,561 282.9,560 280.2,557.1 278.1,553.7 274.4,551.7 270.3,550.8 266.5,551.8 262.6,548.4 261.2,545.6 260.8,542.6 259.7,539.7 257.9,536.7 257.1,533.2 255.8,530 255,527 258.1,525.8 260.2,523.2 263.5,522.3 266,520.2 268.8,518.5 268.8,516 266,512.5 262.5,509.8 261.5,506.2 259.6,503 259.3,499.2 257.5,496 255.6,492.9 253.2,490.1 251.3,487 250,483.5 247.5,481.2 245,479 242.3,476.8 239.7,474.7 237.4,472.2 235,469.8 232.4,468.2 230.3,465.9 227.1,465.2 225.2,462.6 222.8,460.8 219.7,459.9 217.8,457.2 215,456 212.3,454 209.6,452 206.3,450.9 203.5,449 200.6,447.2 198.2,444.7 195,443.5 191.9,442.1 188.6,441.2 185.5,439.8 182.2,438.8 178.9,437.8 176,436 173,434.9 170.7,432.5 167.6,431.6 165,429.8 161.9,428.1 158.2,427.9 155,426.5 151.8,426.8 148.6,426.3 145.3,426.7 142.1,426.4 138.9,425.5 135.7,425.5 132.5,426 129.4,425.9 126.3,426.4 123.2,426.3 120.2,426.5 117.1,427.4 114,427.4 111,428 108.8,430.5 104.3,430.8 100,429.8 99.7,425.3 98.8,421 96.8,417.3 95,413.5 96.3,409.8 97,406 96.1,402.6 94.5,399.4 93.8,396 95,392.5 94,389.2 94.8,385.8 93.8,382.5 92.9,379.4 93.1,376.3 92.6,373.1 92.5,370 90.6,367.7 89.4,364.8 87.5,362.5 86.9,358.5 84.7,355.1"/>
<polygon points="274.2,571.4 278.6,569 281,572.2 278.1,572.4" fill="#000" stroke="#000"/>
</g>
<text class="lg" transform="translate(656.2,620.9) scale(1.003,1.085)">Precipitación en mm:</text>
<rect x="486.5" y="640.5" width="16" height="14" fill="#A36632" stroke="#000" stroke-width="1" shape-rendering="crispEdges"/>
<text class="lg" transform="translate(523.0,656.5) scale(1.015,1.085)"><200</text>
<rect x="486.5" y="667.5" width="16" height="14" fill="#BFA508" stroke="#000" stroke-width="1" shape-rendering="crispEdges"/>
<text class="lg" transform="translate(523.0,683.5) scale(1.015,1.085)">200 - <300</text>
<rect x="486.5" y="694.5" width="16" height="14" fill="#FFFAC8" stroke="#000" stroke-width="1" shape-rendering="crispEdges"/>
<text class="lg" transform="translate(523.0,710.5) scale(1.015,1.085)">300 - <400</text>
<rect x="679.5" y="640.5" width="16" height="14" fill="#8FD3E0" stroke="#000" stroke-width="1" shape-rendering="crispEdges"/>
<text class="lg" transform="translate(716.0,656.5) scale(1.015,1.085)">400 - <600</text>
<rect x="679.5" y="667.5" width="16" height="14" fill="#5AAACF" stroke="#000" stroke-width="1" shape-rendering="crispEdges"/>
<text class="lg" transform="translate(716.0,683.5) scale(1.015,1.085)">600 - <800</text>
<rect x="679.5" y="694.5" width="16" height="14" fill="#3579B1" stroke="#000" stroke-width="1" shape-rendering="crispEdges"/>
<text class="lg" transform="translate(716.0,710.5) scale(1.015,1.085)">800 - <1000</text>
<rect x="873.5" y="640.5" width="16" height="14" fill="#1F4F96" stroke="#000" stroke-width="1" shape-rendering="crispEdges"/>
<text class="lg" transform="translate(910.0,656.5) scale(1.015,1.085)">1000 - <1500</text>
<rect x="873.5" y="667.5" width="16" height="14" fill="#0A2A6C" stroke="#000" stroke-width="1" shape-rendering="crispEdges"/>
<text class="lg" transform="translate(910.0,683.5) scale(1.015,1.085)">>1500</text>
<g>
<polygon points="177.1,616.3 188.7,616.3 164,674.5 149.4,674.5" fill="#2f9e44"/>
<polygon points="188.7,616.3 211.7,674.5 200.3,674.5 182.5,630.5" fill="#0f8a3c"/>
<path d="M177.4,659.3 C186,659 195,660 203,667 L211.7,674.5 L200.3,674.5 C196,670 190,667.5 177.4,667.8 Z" fill="#2f9e44"/>
<text class="jt" x="114.5" y="694" textLength="137.5" lengthAdjust="spacingAndGlyphs">Junta de Andalucía</text>
</g>
</svg></body></html>
